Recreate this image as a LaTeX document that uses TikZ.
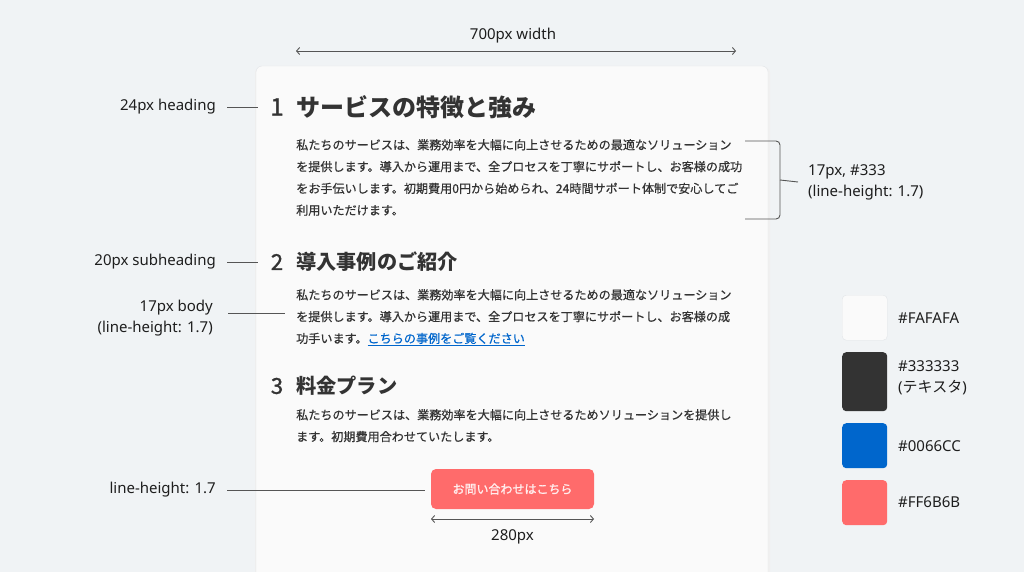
\documentclass[tikz,border=0pt]{standalone}
\usepackage{fontspec}
\setmainfont{Noto Sans}
\newfontfamily\jp{Noto Sans CJK JP}
\newfontfamily\jpmed[FakeBold=0.6]{Noto Sans CJK JP}
\newfontfamily\jpnum[FakeBold=1.4]{Noto Sans CJK JP}
\usetikzlibrary{arrows.meta}

\definecolor{pagebg}{HTML}{F0F3F5}
\definecolor{cardbg}{HTML}{FAFAFA}
\definecolor{cardline}{HTML}{E2E5E8}
\definecolor{ink}{HTML}{1E1E1E}
\definecolor{txt}{HTML}{333333}
\definecolor{linkblue}{HTML}{0066CC}
\definecolor{btnred}{HTML}{FF6B6B}
\definecolor{leader}{HTML}{555555}

\tikzset{
  note/.style={font=\fontsize{15}{21}\selectfont, text=ink, inner sep=0pt},
  lead/.style={draw=leader, line width=0.9pt},
  dim/.style={draw=leader, line width=0.9pt,
    {Straight Barb[length=3pt,width=7pt]}-{Straight Barb[length=3pt,width=7pt]}},
  para/.style={font=\jpmed\fontsize{12.1}{21.8}\selectfont, text=txt, align=left,
    anchor=north west, inner sep=0pt},
  title/.style={font=\jp\bfseries, text=txt, anchor=west, inner sep=0pt},
  num/.style={text=txt, inner sep=0pt},
  swatch/.style={rounded corners=4pt, minimum width=45pt, minimum height=45pt,
    inner sep=0pt, anchor=north west},
}

\begin{document}
\begin{tikzpicture}[x=1pt, y=-1pt]
\useasboundingbox (0,0) rectangle (1024,572);
\fill [pagebg] (0,0) rectangle (1024,572);
\clip (0,0) rectangle (1024,572);

% the card
\fill [black!6, rounded corners=6pt] (255,67) rectangle (770,600);
\draw [fill=cardbg, draw=cardline, rounded corners=6pt] (256,66) rectangle (768,600);

% width dimension
\coordinate (wl) at (296,51);
\coordinate (wr) at (736,51);
\draw [dim] (wl) -- (wr);
\node [note] (wlab) at (513,36) {700px width};

% section 1
\node [num, font=\jpnum\fontsize{24}{28}\selectfont] (n1) at (277,107) {1};
\node [title, font=\jp\bfseries\fontsize{24}{28}\selectfont] (h1) at (296,107) {サービスの特徴と強み};
\node [para] (p1) at (296,139) {私たちのサービスは、業務効率を大幅に向上させるための最適なソリューション\\
を提供します。導入から運用まで、全プロセスを丁寧にサポートし、お客様の成功\\
をお手伝いします。初期費用0円から始められ、24時間サポート体制で安心してご\\
利用いただけます。};

% section 2
\node [num, font=\jpnum\fontsize{22}{26}\selectfont] (n2) at (277,262) {2};
\node [title, font=\jp\bfseries\fontsize{20.2}{24}\selectfont] (h2) at (296,262) {導入事例のご紹介};
\node [para] (p2) at (296,289) {私たちのサービスは、業務効率を大幅に向上させるための最適なソリューション\\
を提供します。導入から運用まで、全プロセスを丁寧にサポートし、お客様の成\\
功手います。\textcolor{linkblue}{\underline{こちらの事例をご覧ください}}};

% section 3
\node [num, font=\jpnum\fontsize{22}{26}\selectfont] (n3) at (277,386) {3};
\node [title, font=\jp\bfseries\fontsize{20.2}{24}\selectfont] (h3) at (296,386) {料金プラン};
\node [para] (p3) at (296,409) {私たちのサービスは、業務効率を大幅に向上させるためソリューションを提供し\\
ます。初期費用合わせていたします。};

% button
\node [fill=btnred, rounded corners=5pt, minimum width=163pt, minimum height=40pt,
  inner sep=0pt, text=white!88!btnred, font=\jpnum\fontsize{12}{14}\selectfont]
  (btn) at (512.5,489) {お問い合わせはこちら};
\coordinate (bl) at (431,519);
\coordinate (br) at (594,519);
\draw [dim] (bl) -- (br);
\node [note] (blab) at (512.5,537) {280px};

% left notes
\node [note, anchor=east] (l1) at (216,107) {24px heading};
\coordinate (t1) at (258,107);
\draw [lead, shorten <=11pt] (l1) -- (t1);

\node [note, anchor=east] (l2) at (216,262) {20px subheading};
\coordinate (t2) at (258,262);
\draw [lead, shorten <=11pt] (l2) -- (t2);

\node [note, anchor=north east, align=right] (l3) at (213,300) {17px body\\(line-height: 1.7)};
\coordinate (t3) at (285,313);
\draw [lead] ([xshift=15pt]l3.north east |- t3) -- (t3);

\node [note, anchor=east] (l4) at (216,490) {line-height: 1.7};
\coordinate (t4) at (425,490);
\draw [lead, shorten <=11pt] (l4) -- (t4);

% right bracket
\draw [lead, rounded corners=4pt] (745,141) -- (780,141) -- (780,219) -- (745,219);
\coordinate (k0) at (780,180);
\node [note, anchor=west, align=left] (r1) at (808,182) {17px, \#333\\(line-height: 1.7)};
\draw [lead] (k0) -- ([xshift=-10pt]r1.west);

% colour swatches
\node [swatch, fill=cardbg, draw=cardline] (s1) at (842,295) {};
\node [swatch, fill=txt, minimum height=59pt] (s2) at (842,352) {};
\node [swatch, fill=linkblue] (s3) at (842,423) {};
\node [swatch, fill=btnred] (s4) at (842,480) {};
\node [note, anchor=west] (c1) at (898,318) {\#FAFAFA};
\node [note, anchor=north west, align=left] (c2) at (898,360) {\#333333\\({\jp テキスタ})};
\node [note, anchor=west] (c3) at (898,446) {\#0066CC};
\node [note, anchor=west] (c4) at (898,502) {\#FF6B6B};
\end{tikzpicture}
\end{document}
